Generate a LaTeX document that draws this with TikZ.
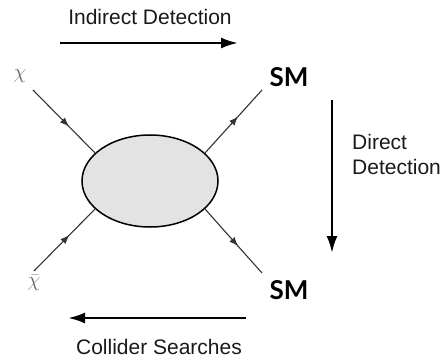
\documentclass[tikz,border=0pt]{standalone}
\usepackage{fontspec}
\setmainfont{Liberation Sans}
\newfontfamily\smfont{Lato}
\usetikzlibrary{arrows.meta,positioning,shapes.geometric,decorations.markings}
\tikzset{
  blob/.style = {draw, ellipse, line width=1.5pt, fill=gray!22, minimum width=136pt, minimum height=92pt, inner sep=0pt},
  leg/.style  = {draw=black!80, line width=1.1pt,
                 decoration={markings, mark=at position 0.58 with {\arrow{Latex[length=9pt,width=7pt]}}},
                 postaction={decorate}},
  flow/.style = {-{Latex[length=17pt,width=11pt]}, line width=2.5pt},
  lbl/.style  = {font=\fontsize{21}{25}\selectfont, text=black!90, inner sep=0pt},
  smlbl/.style = {font=\smfont\bfseries\fontsize{26}{30}\selectfont, inner sep=0pt},
  dmlbl/.style = {font=\fontsize{22}{26}\selectfont, text=black!60, inner sep=0pt},
}
\begin{document}
\begin{tikzpicture}[x=1pt,y=-1pt]
    \useasboundingbox (0,0) rectangle (443,363);
    \node[blob] (blob) at (150,181) {};

    \node[dmlbl] (chi) at (20,76) {$\chi$};
    \node[dmlbl] (chibar) at (34,283) {$\bar{\chi}$};
    \node[smlbl] (smup) at (289,77) {SM};
    \node[smlbl] (smdown) at (289,290) {SM};

    \coordinate (inup) at (33,90);
    \coordinate (indown) at (34,271);
    \coordinate (outup) at (262,90);
    \coordinate (outdown) at (262,273);

    \draw[leg] (inup) -- (blob.153);
    \draw[leg] (indown) -- (blob.207);
    \draw[leg] (blob.27) -- (outup);
    \draw[leg] (blob.333) -- (outdown);

    \coordinate (ids) at (60,43);
    \coordinate (ide) at (238,43);
    \coordinate (dds) at (332,100);
    \coordinate (dde) at (332,253);
    \coordinate (css) at (246,318);
    \coordinate (cse) at (68,318);

    \draw[flow] (ids) -- (ide);
    \draw[flow] (dds) -- (dde);
    \draw[flow] (css) -- (cse);

    \node[lbl] (indirect) at (150,17) {Indirect Detection};
    \node[lbl,align=left,anchor=west] (direct) at (352,154) {Direct\\Detection};
    \node[lbl] (collider) at (159,347) {Collider Searches};
  \end{tikzpicture}
\end{document}
